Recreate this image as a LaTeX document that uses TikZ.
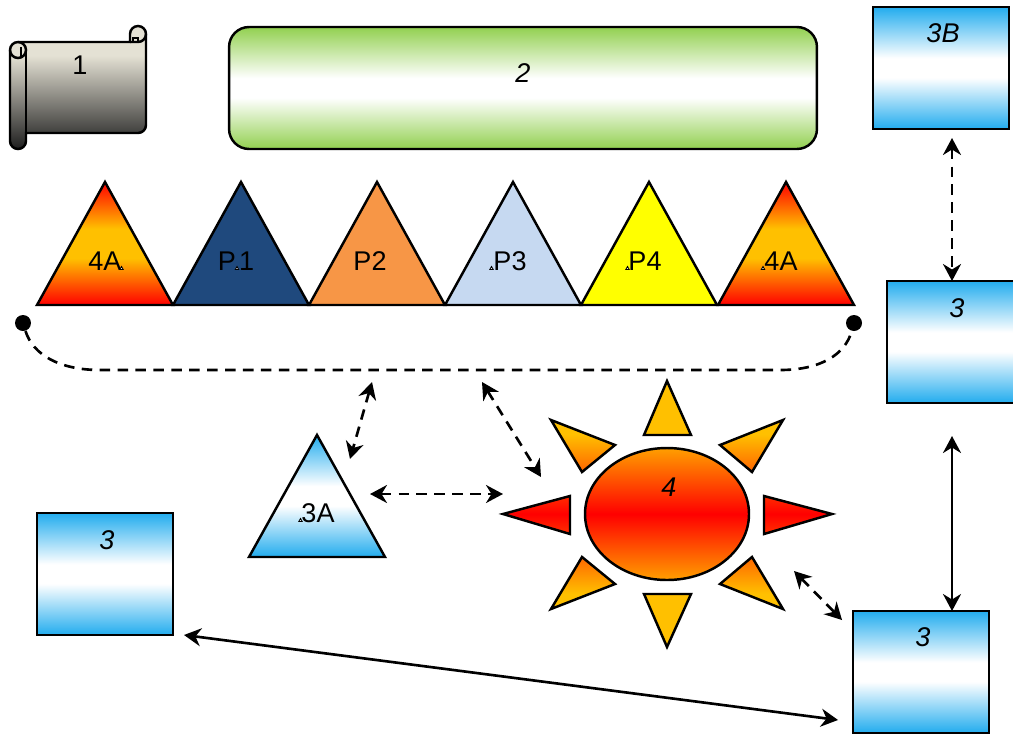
\documentclass[tikz,border=0pt]{standalone}
\usepackage{fontspec}
\setmainfont{Liberation Sans}
\usetikzlibrary{arrows.meta}

\definecolor{skytone}{HTML}{22ACEE}
\definecolor{meadow}{HTML}{92D050}
\definecolor{amber}{HTML}{FFC000}
\definecolor{paperlight}{HTML}{E4E1D4}
\definecolor{paperdark}{HTML}{1E1E1E}
\definecolor{navyfill}{HTML}{1F497D}
\definecolor{orangefill}{HTML}{F79646}
\definecolor{paleblue}{HTML}{C6D9F1}
\definecolor{lemon}{HTML}{FFFF00}
\definecolor{hotred}{HTML}{FF0000}

\pgfdeclareverticalshading{skyband}{100bp}{color(0bp)=(skytone); color(25bp)=(skytone); color(46bp)=(white); color(54bp)=(white); color(75bp)=(skytone); color(100bp)=(skytone)}
\pgfdeclareverticalshading{greenband}{100bp}{color(0bp)=(meadow); color(25bp)=(meadow); color(46bp)=(white); color(54bp)=(white); color(75bp)=(meadow); color(100bp)=(meadow)}
\pgfdeclareverticalshading{paperband}{100bp}{color(0bp)=(paperdark); color(25bp)=(paperdark); color(63bp)=(paperlight); color(100bp)=(paperlight)}
\pgfdeclareverticalshading{fireband}{100bp}{color(0bp)=(hotred); color(25bp)=(hotred); color(44bp)=(amber); color(56bp)=(amber); color(75bp)=(hotred); color(100bp)=(hotred)}
\pgfdeclareverticalshading{sunband}{100bp}{color(0bp)=(amber); color(25bp)=(amber); color(35bp)=(amber); color(50bp)=(hotred); color(65bp)=(amber); color(75bp)=(amber); color(100bp)=(amber)}

\tikzset{
  outline/.style={draw=black, line width=1.4pt, line join=miter},
  caption/.style={font=\fontsize{15.4}{18}\selectfont, inner sep=0pt},
  slanted/.style={caption, font=\fontsize{15.4}{18}\selectfont\itshape},
  square/.style={outline, shade, shading=skyband, minimum width=2.72cm, minimum height=2.44cm, inner sep=0pt, outer sep=0pt},
  sunset/.style={outline, shade, shading=sunband},
  firetri/.style={outline, shade, shading=fireband},
  skytri/.style={outline, shade, shading=skyband},
  dot/.style={circle, fill=black, minimum size=0.32cm, inner sep=0pt},
  link/.style={line width=1.5pt, {Stealth[length=3.4mm,width=3.6mm,inset=1.1mm]}-{Stealth[length=3.4mm,width=3.6mm,inset=1.1mm]}},
  dashlink/.style={link, dash pattern=on 6pt off 4.2pt},
  speck/.style={draw=black, fill=white, line width=0.5pt}
}

\begin{document}
\begin{tikzpicture}[x=0.02cm, y=-0.02cm]
  \useasboundingbox (0,0) rectangle (1013,734);

  % scroll
  \draw[outline, shade, shading=paperband] (10,50) arc[start angle=180, end angle=270, radius=8] -- (130,42) -- (130,34)
    arc[start angle=180, end angle=360, radius=8] -- (146,125) arc[start angle=0, end angle=90, radius=8]
    -- (26,133) -- (26,141) arc[start angle=0, end angle=180, radius=8] -- cycle;
  \draw[outline] (26,50) -- (26,133);
  \draw[outline] (18,42) arc[start angle=270, end angle=360, radius=8] arc[start angle=0, end angle=180, radius=8];
  \draw[outline] (21,57) -- (21,47);
  \draw[outline] (146,34) arc[start angle=0, end angle=90, radius=8] -- (130,42);
  \draw[outline] (133,42) -- (133,38) -- (138,38) -- (138,42);
  \node[caption] (scrolltext) at (80,65.5) {1};

  % banner
  \node[outline, shade, shading=greenband, rounded corners=0.4cm, minimum width=11.76cm, minimum height=2.44cm, inner sep=0pt, outer sep=0pt] (banner) at (523,88) {};
  \node[slanted] (bannertext) at (523,73) {2};

  % boxes
  \node[square] (boxtop) at (941,68) {};
  \node[square] (boxright) at (955,342) {};
  \node[square] (boxlow) at (921,672) {};
  \node[square] (boxleft) at (105,574) {};
  \node[slanted] (boxtoptext) at (943,33) {3B};
  \node[slanted] (boxrighttext) at (957,308) {3};
  \node[slanted] (boxlowtext) at (923,637) {3};
  \node[slanted] (boxlefttext) at (107,540) {3};

  % row of triangles
  \draw[firetri] (105,182) -- ++(68,123) -- ++(-136,0) -- cycle;
  \draw[firetri] (786,182) -- ++(68,123) -- ++(-136,0) -- cycle;
  \foreach \tipx/\tricol in {241/navyfill, 377/orangefill, 513/paleblue, 649/lemon}
    \draw[outline, fill=\tricol] (\tipx,182) -- ++(68,123) -- ++(-136,0) -- cycle;
  \node[caption] (rowa) at (105,261) {4A};
  \node[caption] (rowb) at (236,261) {P\hspace{0.12em}1};
  \node[caption] (rowc) at (370,261) {P2};
  \node[caption] (rowd) at (510,261) {P3};
  \node[caption] (rowe) at (645,261) {P4};
  \node[caption] (rowf) at (781,261) {4A};

  % small third triangle
  \draw[skytri] (317,435) -- (385,557) -- (249,557) -- cycle;
  \node[caption] (tritext) at (318,513) {3A};

  \foreach \spx/\spy in {121.5/268, 237/268, 491.5/268, 627.5/268, 763/268, 300.5/520}
    \draw[speck] (\spx,\spy-1.5) -- ++(1.7,3) -- ++(-3.4,0) -- cycle;

  % sun
  \draw[sunset] (667,514) ellipse [x radius=82, y radius=66]
    (667,381) -- (691,435) -- (644,435) -- cycle
    (667,647) -- (691,594) -- (644,594) -- cycle
    (503,514) -- (570,496) -- (570,534) -- cycle
    (832,514) -- (764,496) -- (764,534) -- cycle
    (551,420) -- (615,445) -- (582,472) -- cycle
    (783,420) -- (720,445) -- (752,472) -- cycle
    (551,609) -- (615,584) -- (582,557) -- cycle
    (783,609) -- (720,584) -- (752,557) -- cycle;
  \node[slanted] (suntext) at (669,487) {4};

  % dots and the dashed curve
  \node[dot] (dotleft) at (23,323) {};
  \node[dot] (dotright) at (854,323) {};
  \draw[line width=1.5pt, dash pattern=on 6pt off 4.2pt] (dotleft) .. controls (33,355) and (60,370) .. (100,370) -- (780,370) .. controls (820,370) and (845,355) .. (dotright);

  % free ends of the arrows
  \path (boxtop.south) ++(11,9) coordinate (topgap);
  \path (boxright.north) ++(-3,0) coordinate (rightup);
  \path (boxright.south) ++(-3,33) coordinate (rightgap);
  \path (boxlow.north) ++(31,0) coordinate (lowup);
  \path (boxleft.south east) ++(11,0) coordinate (leftgap);
  \path (boxlow.south west) ++(-15,-13) coordinate (lowgap);
  \path (boxlow.north west) ++(-11,9) coordinate (lowcorner);
  \coordinate (curvea) at (372,382);
  \coordinate (curveb) at (482,382);
  \coordinate (triup) at (350,459);
  \coordinate (triside) at (370,494);
  \coordinate (sunwest) at (503,494);
  \coordinate (sunnorth) at (541,477);
  \coordinate (sunsouth) at (794,571);

  \draw[dashlink] (topgap) -- (rightup);
  \draw[link] (rightgap) -- (lowup);
  \draw[link] (leftgap) -- (lowgap);
  \draw[dashlink] (curvea) -- (triup);
  \draw[dashlink] (curveb) -- (sunnorth);
  \draw[dashlink] (triside) -- (sunwest);
  \draw[dashlink] (sunsouth) -- (lowcorner);
\end{tikzpicture}
\end{document}
